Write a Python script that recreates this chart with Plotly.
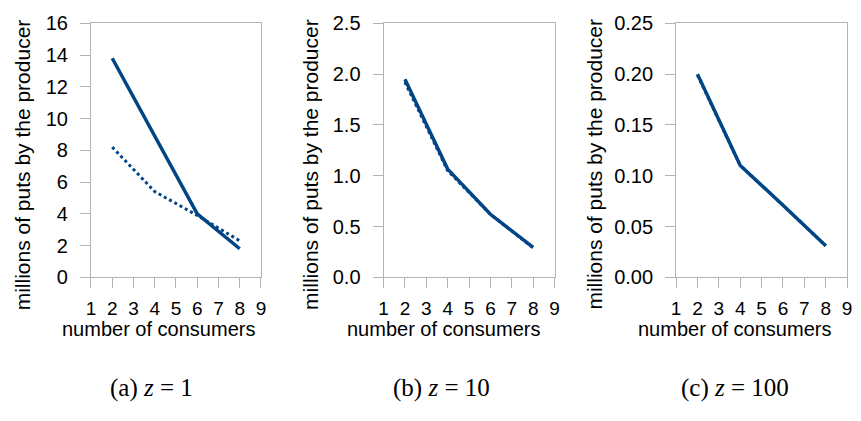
import plotly.graph_objects as go

# number of consumers
consumers = [2, 4, 6, 8]

# millions of puts by the producer, one pair of series per value of z
z1_solid = [13.8, 8.9, 4.0, 1.8]
z1_dotted = [8.2, 5.4, 3.9, 2.3]
z10_solid = [1.95, 1.065, 0.62, 0.295]
z10_dotted = [1.92, 1.05, 0.62, 0.29]
z100_solid = [0.200, 0.110, 0.071, 0.031]
z100_dotted = [0.199, 0.110, 0.071, 0.031]

y_ranges = [[0, 16], [0, 2.5], [0, 0.25]]
y_dticks = [2, 0.5, 0.05]
y_formats = ["d", ".1f", ".2f"]
captions = ["(a) <i>z</i> = 1", "(b) <i>z</i> = 10", "(c) <i>z</i> = 100"]
x_ticks = [1, 2, 3, 4, 5, 6, 7, 8, 9]

W, H = 861, 421
LINE = "#004586"
AXIS = "#b3b3b3"
SANS = "Liberation Sans, Arial, sans-serif"
SERIF = "Liberation Serif, DejaVu Serif, serif"
FS = 19

# plot-area extents in pixels (left, right) and shared top/bottom
panels_px = [(87, 259), (383, 556), (679, 852)]
top_px, bottom_px = 13, 281
ytitle_x_px = [18, 309, 596]
xtitle_x_px = [155, 444, 738]
caption_x_px = [148, 442, 739]

series = [(z1_solid, z1_dotted), (z10_solid, z10_dotted), (z100_solid, z100_dotted)]

fig = go.Figure()
layout = dict(
    width=W, height=H,
    margin=dict(l=0, r=0, t=0, b=0),
    paper_bgcolor="white", plot_bgcolor="white",
    showlegend=False,
    font=dict(family=SANS, size=FS, color="black"),
    annotations=[],
)

for i, ((solid, dotted), (x0, x1)) in enumerate(zip(series, panels_px)):
    suffix = "" if i == 0 else str(i + 1)
    xa, ya = "x" + suffix, "y" + suffix
    fig.add_trace(go.Scatter(x=consumers, y=dotted, mode="lines", xaxis=xa, yaxis=ya,
                             line=dict(color=LINE, width=3, dash="dot")))
    fig.add_trace(go.Scatter(x=consumers, y=solid, mode="lines", xaxis=xa, yaxis=ya,
                             line=dict(color=LINE, width=3.5)))
    layout["xaxis" + suffix] = dict(
        domain=[x0 / W, x1 / W], anchor=ya, range=[1, 9],
        tickmode="array", tickvals=x_ticks, ticktext=[str(v) for v in x_ticks],
        ticks="outside", ticklen=10, tickcolor=AXIS, tickwidth=1,
        showline=True, linecolor=AXIS, linewidth=1, mirror=True,
        showgrid=False, zeroline=False, fixedrange=True,
        ticklabelstandoff=4,
        tickfont=dict(family=SANS, size=FS),
    )
    layout["yaxis" + suffix] = dict(
        domain=[1 - bottom_px / H, 1 - top_px / H], anchor=xa,
        range=y_ranges[i], dtick=y_dticks[i], tick0=0, tickformat=y_formats[i],
        ticks="outside", ticklen=10, tickcolor=AXIS, tickwidth=1,
        showline=True, linecolor=AXIS, linewidth=1, mirror=True,
        showgrid=False, zeroline=False, fixedrange=True,
        ticklabelstandoff=8,
        tickfont=dict(family=SANS, size=20),
    )
    layout["annotations"] += [
        dict(text="millions of puts by the producer", textangle=-90,
             x=ytitle_x_px[i] / W, y=1 - 162 / H, xref="paper", yref="paper",
             xanchor="center", yanchor="middle", showarrow=False,
             font=dict(family=SANS, size=21)),
        dict(text="number of consumers",
             x=xtitle_x_px[i] / W, y=1 - 336 / H, xref="paper", yref="paper",
             xanchor="center", yanchor="middle", showarrow=False,
             font=dict(family=SANS, size=20)),
        dict(text=captions[i],
             x=caption_x_px[i] / W, y=1 - 398 / H, xref="paper", yref="paper",
             xanchor="center", yanchor="middle", showarrow=False,
             font=dict(family=SERIF, size=25)),
    ]

fig.update_layout(**layout)
fig.write_html("out.html")
